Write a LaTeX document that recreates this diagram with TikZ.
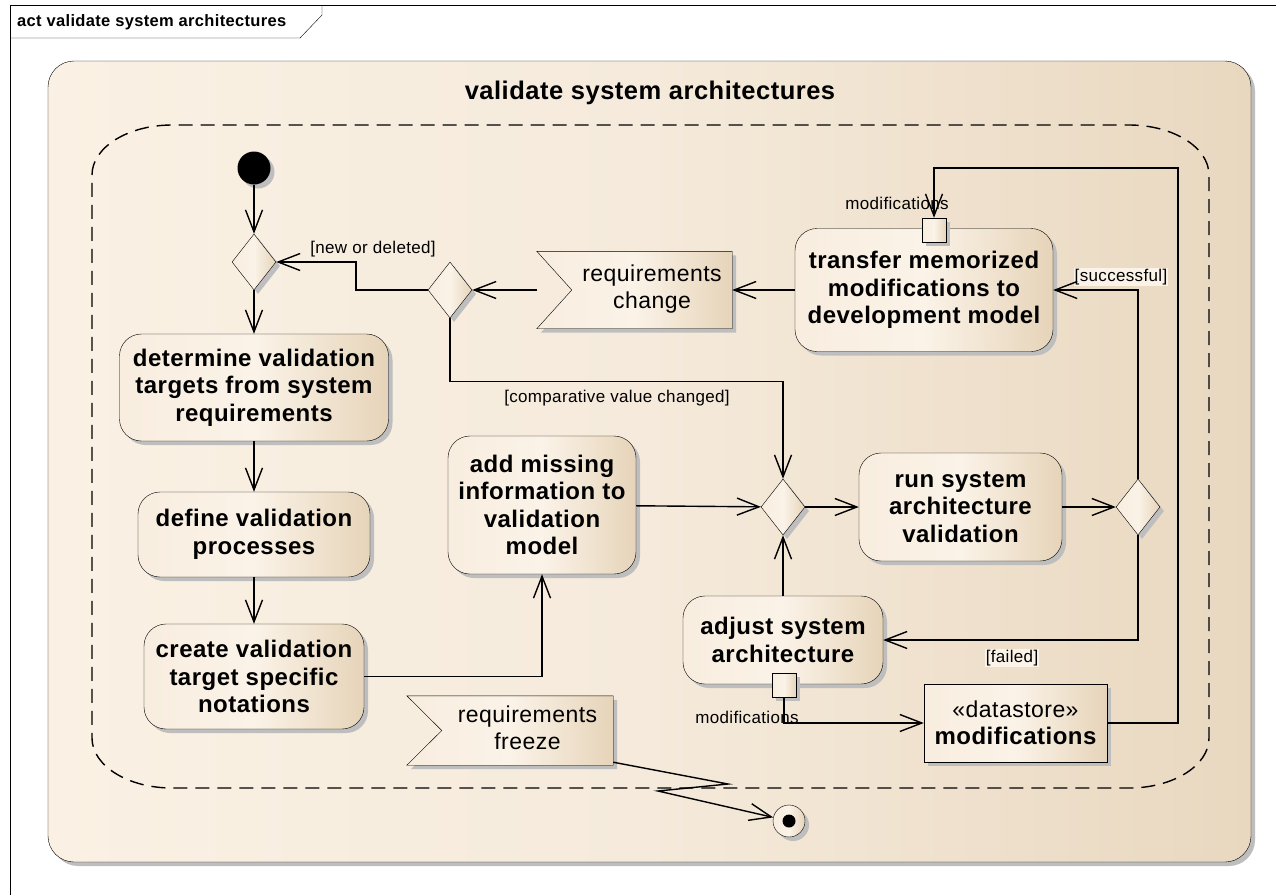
\documentclass[tikz,border=0pt]{standalone}
\usepackage{fontspec}
\setmainfont[LetterSpace=2]{Liberation Sans}
\usetikzlibrary{arrows.meta,shapes.geometric,shadows,calc}
\pgfdeclarelayer{back}
\pgfdeclarelayer{mid}
\pgfsetlayers{back,mid,main}

\definecolor{actL}{HTML}{FAF1E4}
\definecolor{actM}{HTML}{F5EADB}
\definecolor{actR}{HTML}{E9D8C0}
\definecolor{boxL}{HTML}{F8EDDF}
\definecolor{boxM}{HTML}{FBF3E8}
\definecolor{boxR}{HTML}{E6D4B9}
\definecolor{eaShadow}{HTML}{BEBEBE}

\newcommand{\actionfont}{\fontsize{24}{27.5}\selectfont\bfseries}
\newcommand{\bodyfont}{\fontsize{23}{27}\selectfont}
\newcommand{\guardfont}{\fontsize{17}{20}\selectfont}
\newcommand{\headfont}{\fontsize{25.5}{30}\selectfont\bfseries}
\newcommand{\framefont}{\fontsize{16.5}{20}\selectfont\bfseries}

\tikzset{
  eashadow/.style={drop shadow={shadow xshift=4pt,shadow yshift=-4pt,fill=eaShadow,opacity=1}},
  tanfill/.style={left color=boxL,right color=boxR,middle color=boxM},
  actionbox/.style={draw,rounded corners=22pt,tanfill,eashadow,align=center,inner sep=2pt,font=\actionfont},
  decision/.style={diamond,draw,tanfill,eashadow,minimum width=44pt,minimum height=56pt,inner sep=0pt},
  pinbox/.style={rectangle,draw,tanfill,eashadow,minimum size=24pt,inner sep=0pt},
  signalbox/.style={minimum width=195pt,inner sep=0pt,font=\bodyfont},
  flow/.style={draw,line width=1.4pt,-{Straight Barb[length=22pt,width=17pt,line width=1.4pt]}},
  guard/.style={font=\guardfont,inner sep=1pt},
  regionpen/.style={draw,line width=1.4pt,dash pattern=on 14pt off 8pt}
}

\begin{document}
\begin{tikzpicture}[x=1pt,y=-1pt,line width=1.5pt]
\useasboundingbox (0,0) rectangle (1276,895);

% diagram frame, activity and interruptible region
\begin{pgfonlayer}{back}
  \fill[white] (0,0) rectangle (1276,895);
  \draw (10,895) -- (10,5) -- (1276,5);
  \draw (10,38) -- (300,38) -- (322,15) -- (322,5);
  \node[draw,rounded corners=26pt,left color=actL,right color=actR,middle color=actM,
        eashadow,minimum width=1203pt,minimum height=801pt,inner sep=0pt]
        (activity) at (649.5,461.5) {};
  \path[regionpen]
    (92,175) .. controls (92,147.4) and (127.8,125) .. (172,125)
    -- (1129,125) .. controls (1173.2,125) and (1209,147.4) .. (1209,175)
    -- (1209,738) .. controls (1209,765.6) and (1173.2,788) .. (1129,788)
    -- (172,788) .. controls (127.8,788) and (92,765.6) .. (92,738) -- cycle;
\end{pgfonlayer}

\node[anchor=west,font=\framefont,inner sep=0pt] (frametitle) at (17,22) {act validate system architectures};
\node[font=\headfont] (acttitle) at (650,93) {validate system architectures};

% initial and final nodes
\node[circle,fill=black,eashadow,minimum size=33pt,inner sep=0pt] (init) at (254,168) {};
\node[circle,draw,tanfill,eashadow,minimum size=32pt,inner sep=0pt] (fin) at (789,821) {};
\node[circle,fill=black,minimum size=13pt,inner sep=0pt] (findot) at (fin.center) {};

% decisions and merges
\node[decision] (D1) at (254,262) {};
\node[decision] (D2) at (450,290) {};
\node[decision] (D4) at (783,507) {};
\node[decision] (D3) at (1138,507) {};

% actions
\node[actionbox,minimum width=269pt,minimum height=107pt] (det) at (254,387.5)
  {determine validation\\targets from system\\requirements};
\node[actionbox,minimum width=232pt,minimum height=85pt] (def) at (254,534.5)
  {define validation\\processes};
\node[actionbox,minimum width=220pt,minimum height=105pt] (cre) at (254,676.5)
  {create validation\\target specific\\notations};
\node[actionbox,minimum width=188pt,minimum height=138pt] (add) at (542,505)
  {add missing\\information to\\validation\\model};
\node[actionbox,minimum width=258pt,minimum height=123pt] (tr) at (924,290)
  {transfer memorized\\modifications to\\development model};
\node[actionbox,minimum width=203pt,minimum height=108pt] (run) at (960.5,507)
  {run system\\architecture\\validation};
\node[actionbox,minimum width=200pt,minimum height=88pt] (adj) at (783,640)
  {adjust system\\architecture};

% datastore
\node[draw,rectangle,tanfill,eashadow,minimum width=183pt,minimum height=78pt,
      align=center,inner sep=0pt,font=\actionfont] (ds) at (1015.5,723)
  {{\mdseries\bodyfont «datastore»}\\modifications};

% pins
\node[pinbox] (trpin) at (934,230) {};
\node[pinbox] (adjpin) at (784,685) {};
\node[guard] (trpinlbl) at (897,203) {modifications};
\node[guard] (adjpinlbl) at (747,717) {modifications};

% accept event actions
\node[signalbox,minimum height=77pt] (rc) at (634.5,290)
  {\hspace*{35pt}\begin{tabular}{@{}c@{}}requirements\\change\end{tabular}};
\node[signalbox,minimum width=206pt,minimum height=69pt] (rf) at (510,730.5)
  {\hspace*{35pt}\begin{tabular}{@{}c@{}}requirements\\freeze\end{tabular}};
\begin{pgfonlayer}{mid}
  \path[draw,tanfill,eashadow] (rc.north west) -- (rc.north east) -- (rc.south east)
    -- (rc.south west) -- ($(rc.west)+(35,0)$) -- cycle;
  \path[draw,tanfill,eashadow] (rf.north west) -- (rf.north east) -- (rf.south east)
    -- (rf.south west) -- ($(rf.west)+(35,0)$) -- cycle;
\end{pgfonlayer}

% guards
\node[guard] (gnew) at (373,249) {[new or deleted]};
\node[guard] (gcmp) at (617,398) {[comparative value changed]};
\node[guard,fill=boxM] (gsucc) at (1121,277) {[successful]};
\node[guard,fill=boxM] (gfail) at (1012,658) {[failed]};

% control and object flows
\coordinate (loop) at (1178,168);
\draw[flow] (init) -- (D1);
\draw[flow] (D1) -- (det);
\draw[flow] (det) -- (def);
\draw[flow] (def) -- (cre);
\draw[flow] (cre.east) -| (add.south);
\draw[flow] (add) -- (D4);
\draw[flow] (D4) -- (run);
\draw[flow] (run) -- (D3);
\draw[flow] (D3.north) |- (tr.east);
\draw[flow] (D3.south) |- (adj.east);
\draw[flow] (adj) -- (D4);
\draw[flow] (tr.west) -- (rc.east);
\draw[flow] (rc.west) -- (D2.east);
\draw[flow] (D2.west) -- ++(-72,0) |- (D1.east);
\draw[flow] (D2.south) -- ++(0,63) -| (D4.north);
\draw[flow] (adjpin.south) |- (ds.west);
\draw[flow] (ds.east) -| (loop) -| (trpin.north);
\draw[flow] ([yshift=3pt]rf.south east) -- (728,784) -- (658,791) -- (fin);
\end{tikzpicture}
\end{document}
